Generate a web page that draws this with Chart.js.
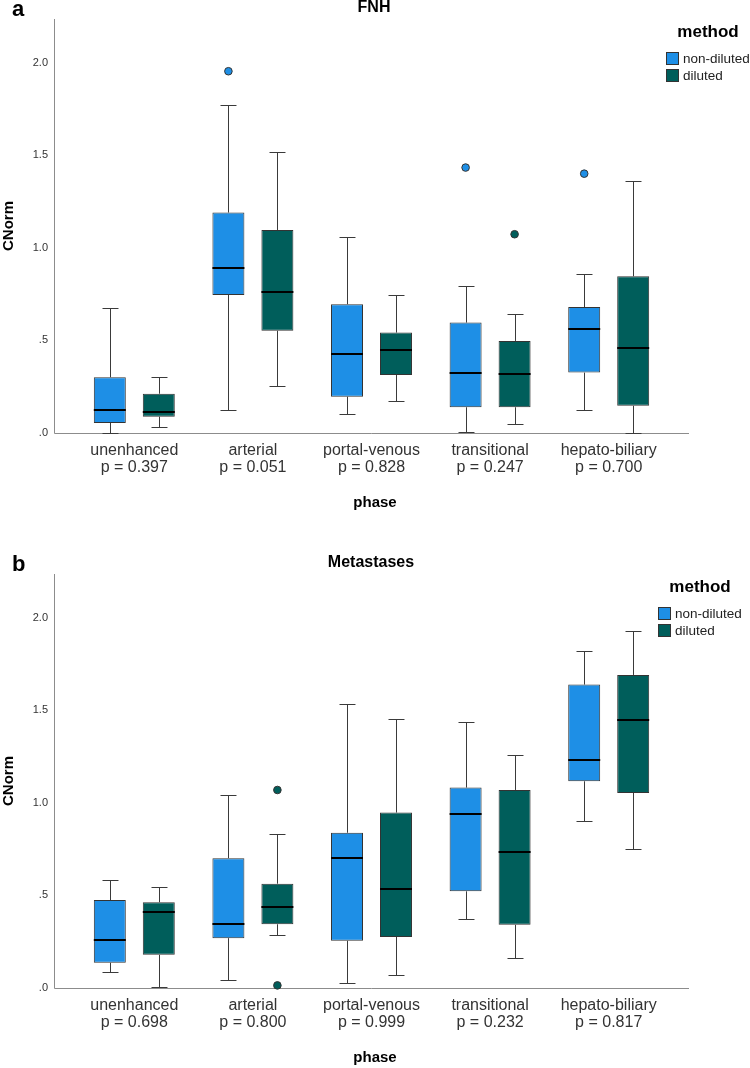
<!DOCTYPE html>
<html>
<head>
<meta charset="utf-8">
<script src="https://cdn.jsdelivr.net/npm/chart.js@4.4.1/dist/chart.umd.min.js"></script>
<style>
  html, body { margin: 0; padding: 0; background: #fff; overflow: hidden; }
  #wrap { position: relative; width: 750px; height: 1068px; }
  .panel { position: absolute; left: 0; width: 750px; }
  canvas { display: block; }
</style>
</head>
<body>
<div id="wrap">
  <div class="panel" style="top:0;height:545px"><canvas id="chartA" width="750" height="545"></canvas></div>
  <div class="panel" style="top:545px;height:523px"><canvas id="chartB" width="750" height="523"></canvas></div>
</div>
<script>
// ---------- data ----------
const categories = ['unenhanced', 'arterial', 'portal-venous', 'transitional', 'hepato-biliary'];
const seriesNames = ['non-diluted', 'diluted'];
const yTicks = [0, 0.5, 1.0, 1.5, 2.0];

// FNH (panel a)
const fnhP = ['p = 0.397', 'p = 0.051', 'p = 0.828', 'p = 0.247', 'p = 0.700'];
const fnhNonMin = [0.000, 0.122, 0.104, 0.005, 0.123];
const fnhNonQ1  = [0.054, 0.745, 0.196, 0.139, 0.326];
const fnhNonMed = [0.124, 0.889, 0.428, 0.326, 0.560];
const fnhNonQ3  = [0.301, 1.190, 0.695, 0.596, 0.680];
const fnhNonMax = [0.673, 1.773, 1.060, 0.796, 0.857];
const fnhNonOut = [[], [1.953], [], [1.433], [1.400]];
const fnhDilMin = [0.034, 0.255, 0.175, 0.049, 0.000];
const fnhDilQ1  = [0.088, 0.552, 0.313, 0.139, 0.147];
const fnhDilMed = [0.112, 0.763, 0.446, 0.317, 0.461];
const fnhDilQ3  = [0.212, 1.096, 0.542, 0.497, 0.846];
const fnhDilMax = [0.301, 1.519, 0.745, 0.643, 1.361];
const fnhDilOut = [[], [], [], [1.073], []];

// Metastases (panel b)
const metP = ['p = 0.698', 'p = 0.800', 'p = 0.999', 'p = 0.232', 'p = 0.817'];
const metNonMin = [0.086, 0.041, 0.025, 0.371, 0.900];
const metNonQ1  = [0.136, 0.269, 0.255, 0.522, 1.116];
const metNonMed = [0.258, 0.346, 0.701, 0.938, 1.229];
const metNonQ3  = [0.475, 0.701, 0.838, 1.082, 1.638];
const metNonMax = [0.585, 1.044, 1.532, 1.435, 1.819];
const metNonOut = [[], [], [], [], []];
const metDilMin = [0.003, 0.287, 0.068, 0.163, 0.750];
const metDilQ1  = [0.179, 0.344, 0.276, 0.341, 1.053];
const metDilMed = [0.409, 0.439, 0.536, 0.732, 1.448];
const metDilQ3  = [0.463, 0.563, 0.947, 1.069, 1.690];
const metDilMax = [0.545, 0.834, 1.453, 1.259, 1.928];
const metDilOut = [[], [1.069, 0.014], [], [], []];

// ---------- style ----------
const COLORS = ['#1E8FE6', '#005E5B'];
const EDGE = '#333333';
const AXIS = '#8c8c8c';
const FONT = '"Liberation Sans", Arial, Helvetica, sans-serif';
const AXIS_EXT = 21;

function boxDataset(name, color, q1, q3, min, med, max, out) {
  return {
    label: name,
    data: q1.map((v, i) => [v, q3[i]]),
    backgroundColor: color,
    borderColor: EDGE,
    borderWidth: 1,
    borderSkipped: false,
    categoryPercentage: 0.826,
    barPercentage: 0.653,
    box: { min, med, max, out }
  };
}

const boxPlugin = {
  id: 'boxplot',
  beforeDatasetsDraw(chart) {
    const { ctx, chartArea: ca } = chart;
    ctx.save();
    ctx.strokeStyle = AXIS;
    ctx.lineWidth = 1;
    ctx.beginPath();
    const x0 = Math.round(ca.left - AXIS_EXT) + 0.5;
    const yb = Math.round(ca.bottom) + 0.5;
    ctx.moveTo(x0, ca.top);
    ctx.lineTo(x0, yb);
    ctx.lineTo(ca.right + AXIS_EXT, yb);
    ctx.stroke();
    ctx.restore();
  },
  afterDatasetsDraw(chart) {
    const { ctx } = chart;
    const ys = chart.scales.y;
    ctx.save();
    chart.data.datasets.forEach((ds, di) => {
      const meta = chart.getDatasetMeta(di);
      const b = ds.box;
      meta.data.forEach((bar, i) => {
        const cx = Math.round(bar.x) + 0.5;
        const w = bar.width;
        const capW = w / 2;
        const yQ1 = ys.getPixelForValue(ds.data[i][0]);
        const yQ3 = ys.getPixelForValue(ds.data[i][1]);
        const yMin = Math.round(ys.getPixelForValue(b.min[i])) + 0.5;
        const yMax = Math.round(ys.getPixelForValue(b.max[i])) + 0.5;
        const yMed = ys.getPixelForValue(b.med[i]);
        ctx.strokeStyle = '#3a3a3a';
        ctx.lineWidth = 1;
        ctx.beginPath();
        ctx.moveTo(cx, yQ3); ctx.lineTo(cx, yMax);
        ctx.moveTo(cx - capW / 2, yMax); ctx.lineTo(cx + capW / 2, yMax);
        ctx.moveTo(cx, yQ1); ctx.lineTo(cx, yMin);
        ctx.moveTo(cx - capW / 2, yMin); ctx.lineTo(cx + capW / 2, yMin);
        ctx.stroke();
        // median
        ctx.strokeStyle = '#000';
        ctx.lineWidth = 2;
        ctx.beginPath();
        ctx.moveTo(bar.x - w / 2, Math.round(yMed));
        ctx.lineTo(bar.x + w / 2, Math.round(yMed));
        ctx.stroke();
        // outliers
        b.out[i].forEach(v => {
          const py = ys.getPixelForValue(v);
          ctx.beginPath();
          ctx.arc(bar.x, py, 3.8, 0, Math.PI * 2);
          ctx.fillStyle = ds.backgroundColor;
          ctx.fill();
          ctx.strokeStyle = EDGE;
          ctx.lineWidth = 1;
          ctx.stroke();
        });
      });
    });
    ctx.restore();
  },
  afterDraw(chart, args, o) {
    const { ctx, chartArea: ca } = chart;
    const T = ca.top, B = ca.bottom;
    ctx.save();
    ctx.fillStyle = '#000';
    // panel letter
    ctx.font = 'bold 22px ' + FONT;
    ctx.textAlign = 'left';
    ctx.textBaseline = 'alphabetic';
    ctx.fillText(o.letter, 12, T - 3);
    // title
    ctx.font = 'bold 16px ' + FONT;
    ctx.textAlign = 'center';
    ctx.textBaseline = 'middle';
    ctx.fillText(o.title, o.titleX, T - 11.5);
    // axis titles
    ctx.font = 'bold 15px ' + FONT;
    ctx.fillText('phase', 375, B + 70);
    ctx.save();
    ctx.translate(9, (T + B) / 2);
    ctx.rotate(-Math.PI / 2);
    ctx.fillText('CNorm', 0, 0);
    ctx.restore();
    // legend
    const lx = o.legendX;
    ctx.font = 'bold 17px ' + FONT;
    ctx.fillText('method', lx + 42, T + 13.5);
    ctx.font = '13.5px ' + FONT;
    ctx.textAlign = 'left';
    chart.data.datasets.forEach((ds, di) => {
      const top = T + 33 + di * 17;
      ctx.fillStyle = ds.backgroundColor;
      ctx.fillRect(lx + 0.5, top + 0.5, 12, 12);
      ctx.strokeStyle = EDGE;
      ctx.lineWidth = 1;
      ctx.strokeRect(lx + 0.5, top + 0.5, 12, 12);
      ctx.fillStyle = '#222';
      ctx.fillText(ds.label, lx + 17, top + 7);
    });
    ctx.restore();
  }
};

function makeChart(id, pLabels, sets, opts) {
  const canvas = document.getElementById(id);
  const H = canvas.height;
  const xH = H - opts.bottom;
  return new Chart(canvas, {
    type: 'bar',
    data: {
      labels: categories.map((c, i) => [c, pLabels[i]]),
      datasets: sets
    },
    options: {
      responsive: false,
      animation: false,
      layout: { padding: { top: opts.top, right: 82, left: 0, bottom: 0 } },
      plugins: {
        legend: { display: false },
        tooltip: { enabled: false },
        title: { display: false },
        boxplot: opts.deco
      },
      scales: {
        x: {
          offset: true,
          grid: { display: false, drawTicks: false },
          border: { display: false },
          ticks: {
            color: '#333',
            font: { family: FONT, size: 16, lineHeight: 1.08 },
            padding: 9,
            maxRotation: 0,
            autoSkip: false
          },
          afterFit: s => { s.height = xH; s.paddingLeft = 0; s.paddingRight = 0; }
        },
        y: {
          min: 0,
          max: 2.235,
          grid: { display: false, drawTicks: false },
          border: { display: false },
          afterBuildTicks: s => { s.ticks = yTicks.map(v => ({ value: v })); },
          ticks: {
            color: '#333',
            font: { family: FONT, size: 11 },
            padding: 27,
            callback: v => v.toFixed(1).replace(/^0/, '')
          },
          afterFit: s => { s.width = 75; s.paddingTop = 0; s.paddingBottom = 0; }
        }
      }
    },
    plugins: [boxPlugin]
  });
}

makeChart('chartA', fnhP, [
  boxDataset(seriesNames[0], COLORS[0], fnhNonQ1, fnhNonQ3, fnhNonMin, fnhNonMed, fnhNonMax, fnhNonOut),
  boxDataset(seriesNames[1], COLORS[1], fnhDilQ1, fnhDilQ3, fnhDilMin, fnhDilMed, fnhDilMax, fnhDilOut)
], { top: 19, bottom: 433, deco: { letter: 'a', title: 'FNH', titleX: 374, legendX: 666 } });

makeChart('chartB', metP, [
  boxDataset(seriesNames[0], COLORS[0], metNonQ1, metNonQ3, metNonMin, metNonMed, metNonMax, metNonOut),
  boxDataset(seriesNames[1], COLORS[1], metDilQ1, metDilQ3, metDilMin, metDilMed, metDilMax, metDilOut)
], { top: 29, bottom: 443, deco: { letter: 'b', title: 'Metastases', titleX: 371, legendX: 658 } });
</script>
</body>
</html>
